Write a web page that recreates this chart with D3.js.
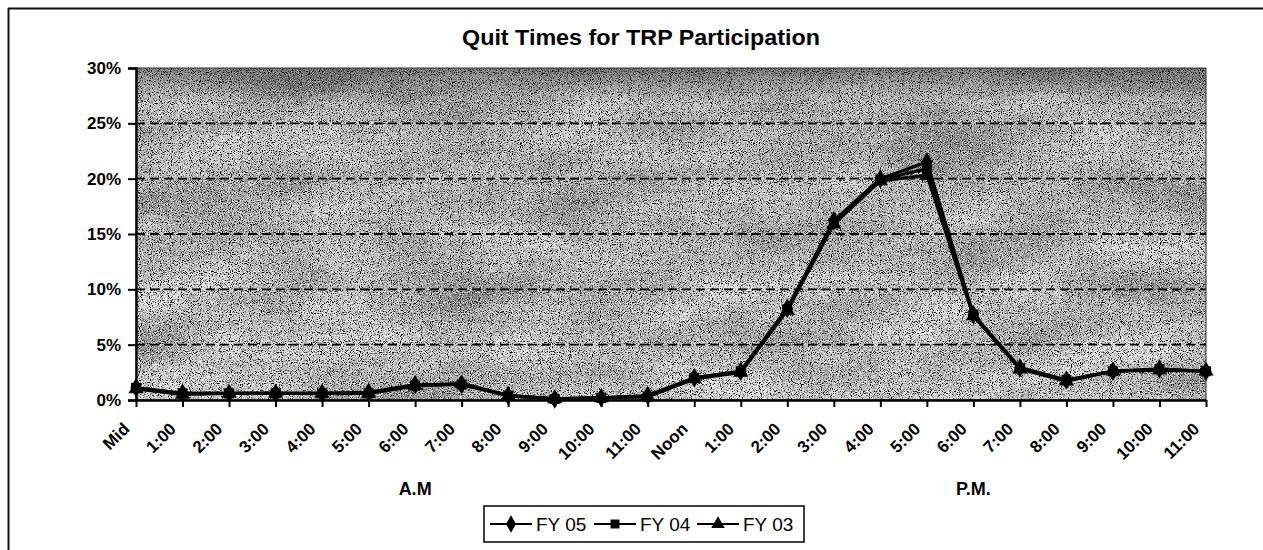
<!DOCTYPE html>
<html>
<head>
<meta charset="utf-8">
<script src="https://cdn.jsdelivr.net/npm/d3@7"></script>
<style>
  body { margin: 0; background: #fff; }
  svg { display: block; font-family: "Liberation Sans", Arial, sans-serif; }
  .tick-label { font-size: 17px; font-weight: bold; }
  .y-label { font-size: 17px; font-weight: bold; }
</style>
</head>
<body>
<svg width="1263" height="550"></svg>
<script>
'use strict';

// data (percent)
const hours = ["Mid", "1:00", "2:00", "3:00", "4:00", "5:00", "6:00", "7:00", "8:00", "9:00", "10:00", "11:00",
               "Noon", "1:00", "2:00", "3:00", "4:00", "5:00", "6:00", "7:00", "8:00", "9:00", "10:00", "11:00"];
const fy05 = [1.1, 0.6, 0.6, 0.6, 0.6, 0.7, 1.4, 1.4, 0.4, 0.1, 0.2, 0.4, 2.0, 2.6, 8.3, 16.2, 20.0, 21.5, 7.7, 2.9, 1.8, 2.6, 2.8, 2.6];
const fy04 = [1.1, 0.6, 0.6, 0.6, 0.6, 0.6, 1.3, 1.4, 0.4, 0.1, 0.2, 0.3, 2.0, 2.6, 8.2, 16.0, 19.9, 20.9, 7.7, 2.9, 1.8, 2.6, 2.8, 2.6];
const fy03 = [1.0, 0.5, 0.6, 0.6, 0.6, 0.6, 1.3, 1.5, 0.4, 0.1, 0.2, 0.3, 1.9, 2.5, 8.1, 15.9, 19.8, 20.3, 7.6, 2.8, 1.7, 2.6, 2.7, 2.6];
const yTicks = [0, 5, 10, 15, 20, 25, 30];
const seriesNames = ["FY 05", "FY 04", "FY 03"];
const periodLabels = ["A.M", "P.M."];

const svg = d3.select("svg");
const margin = {top: 68, left: 136, right: 57, bottom: 150};
const width = 1263 - margin.left - margin.right;   // 1070
const height = 550 - margin.top - margin.bottom;   // 332

// outer chart frame (only top and left edges survive in the scan)
svg.append("line").attr("x1", 8).attr("x2", 1263).attr("y1", 8.5).attr("y2", 8.5)
  .attr("stroke", "#111").attr("stroke-width", 2);
svg.append("line").attr("x1", 8.5).attr("x2", 8.5).attr("y1", 8).attr("y2", 550)
  .attr("stroke", "#111").attr("stroke-width", 2);

svg.append("text")
  .attr("x", 641).attr("y", 45)
  .attr("text-anchor", "middle")
  .attr("textLength", 358).attr("lengthAdjust", "spacingAndGlyphs")
  .style("font-size", "22px").style("font-weight", "bold")
  .text("Quit Times for TRP Participation");

// grainy, mottled grey fill for the plot area
const defs = svg.append("defs");
const f = defs.append("filter").attr("id", "grain")
  .attr("x", 0).attr("y", 0).attr("width", "100%").attr("height", "100%");
f.append("feTurbulence").attr("type", "fractalNoise").attr("baseFrequency", "0.008 0.02")
  .attr("numOctaves", 4).attr("seed", 11).attr("result", "mottle");
f.append("feColorMatrix").attr("in", "mottle").attr("type", "matrix")
  .attr("values", "0.8 0 0 0 0.22  0.8 0 0 0 0.22  0.8 0 0 0 0.22  0 0 0 0 1").attr("result", "base");
f.append("feTurbulence").attr("type", "fractalNoise").attr("baseFrequency", "1.1")
  .attr("numOctaves", 1).attr("seed", 2).attr("result", "fine");
f.append("feColorMatrix").attr("in", "fine").attr("type", "matrix")
  .attr("values", "0 0 0 0 0  0 0 0 0 0  0 0 0 0 0  -5 0 0 0 2.65").attr("result", "dark");
f.append("feColorMatrix").attr("in", "fine").attr("type", "matrix")
  .attr("values", "0 0 0 0 1  0 0 0 0 1  0 0 0 0 1  5 0 0 0 -2.75").attr("result", "light");
const merge = f.append("feMerge");
merge.append("feMergeNode").attr("in", "base");
merge.append("feMergeNode").attr("in", "dark");
merge.append("feMergeNode").attr("in", "light");

const shade = defs.append("linearGradient").attr("id", "shade").attr("x1", 0).attr("y1", 0).attr("x2", 0).attr("y2", 1);
shade.append("stop").attr("offset", "0").attr("stop-color", "#000").attr("stop-opacity", 0.4);
shade.append("stop").attr("offset", "0.1").attr("stop-color", "#000").attr("stop-opacity", 0.08);
shade.append("stop").attr("offset", "1").attr("stop-color", "#000").attr("stop-opacity", 0);

const g = svg.append("g").attr("transform", "translate(" + margin.left + "," + margin.top + ")");

g.append("rect")
  .attr("width", width).attr("height", height)
  .attr("fill", "#aaa")
  .attr("filter", "url(#grain)");
g.append("rect")
  .attr("width", width).attr("height", height)
  .attr("fill", "url(#shade)");
g.append("rect")
  .attr("width", width).attr("height", height)
  .attr("fill", "none").attr("stroke", "#333").attr("stroke-width", 1);

const x = d3.scalePoint().domain(d3.range(hours.length)).range([0, width]);
const y = d3.scaleLinear().domain([0, 30]).range([height, 0]);

// dashed gridlines
g.append("g").selectAll("line")
  .data(yTicks.filter(d => d > 0 && d < 30))
  .join("line")
  .attr("x1", 0).attr("x2", width)
  .attr("y1", d => y(d)).attr("y2", d => y(d))
  .attr("stroke", "#000").attr("stroke-width", 1.8)
  .attr("stroke-dasharray", "9,5");

// y axis
const yAxis = g.append("g")
  .call(d3.axisLeft(y).tickValues(yTicks).tickFormat(d => d + "%").tickSize(8).tickPadding(7));
yAxis.select(".domain").attr("stroke", "#000").attr("stroke-width", 2.4);
yAxis.selectAll(".tick line").attr("stroke", "#000").attr("stroke-width", 2);
yAxis.selectAll("text").attr("class", "y-label").attr("fill", "#000");

// x axis
const xAxis = g.append("g")
  .attr("transform", "translate(0," + height + ")")
  .call(d3.axisBottom(x).tickFormat(i => hours[i]).tickSize(7).tickSizeOuter(0));
xAxis.select(".domain").attr("stroke", "#000").attr("stroke-width", 2.4);
xAxis.selectAll(".tick line").attr("stroke", "#000").attr("stroke-width", 2);
xAxis.selectAll("text")
  .attr("class", "tick-label").attr("fill", "#000")
  .attr("text-anchor", "end")
  .attr("x", 0).attr("y", 0).attr("dy", 0)
  .attr("transform", "translate(-6,30) rotate(-45)");

// A.M. / P.M.
g.selectAll(".period")
  .data(periodLabels)
  .join("text")
  .attr("class", "period")
  .attr("x", (d, i) => x(6) + i * (x(12) - x(0)))
  .attr("y", height + 95)
  .attr("text-anchor", "middle")
  .style("font-size", "18px").style("font-weight", "bold")
  .text(d => d);

// series, squares drawn last as they sit on top in the scan
const series = [
  {name: seriesNames[2], values: fy03, symbol: d3.symbolTriangle, size: 100},
  {name: seriesNames[0], values: fy05, symbol: d3.symbolDiamond, size: 110},
  {name: seriesNames[1], values: fy04, symbol: d3.symbolSquare, size: 100}
];

const line = d3.line().x((d, i) => x(i)).y(d => y(d));

series.forEach(s => {
  g.append("path")
    .datum(s.values)
    .attr("fill", "none")
    .attr("stroke", "#000")
    .attr("stroke-width", 3.2)
    .attr("stroke-linejoin", "round")
    .attr("d", line);
  g.append("g").selectAll("path")
    .data(s.values)
    .join("path")
    .attr("transform", (d, i) => "translate(" + x(i) + "," + y(d) + ")")
    .attr("d", d3.symbol().type(s.symbol).size(s.size))
    .attr("fill", "#000");
});

// legend
const legend = svg.append("g").attr("transform", "translate(484,506)");
legend.append("rect")
  .attr("width", 320).attr("height", 36)
  .attr("fill", "#fff").attr("stroke", "#000").attr("stroke-width", 1.5);

const legendItems = [series[1], series[2], series[0]];
const itemX = [6, 110, 213];
legendItems.forEach((s, i) => {
  const li = legend.append("g").attr("transform", "translate(" + itemX[i] + ",18)");
  li.append("line").attr("x1", 0).attr("x2", 42).attr("stroke", "#000").attr("stroke-width", 2.2);
  li.append("path")
    .attr("transform", "translate(21,0)")
    .attr("d", d3.symbol().type(s.symbol).size(s.size * 0.8))
    .attr("fill", "#000");
  li.append("text")
    .attr("x", 46).attr("y", 7)
    .style("font-size", "19px")
    .text(s.name);
});
</script>
</body>
</html>
